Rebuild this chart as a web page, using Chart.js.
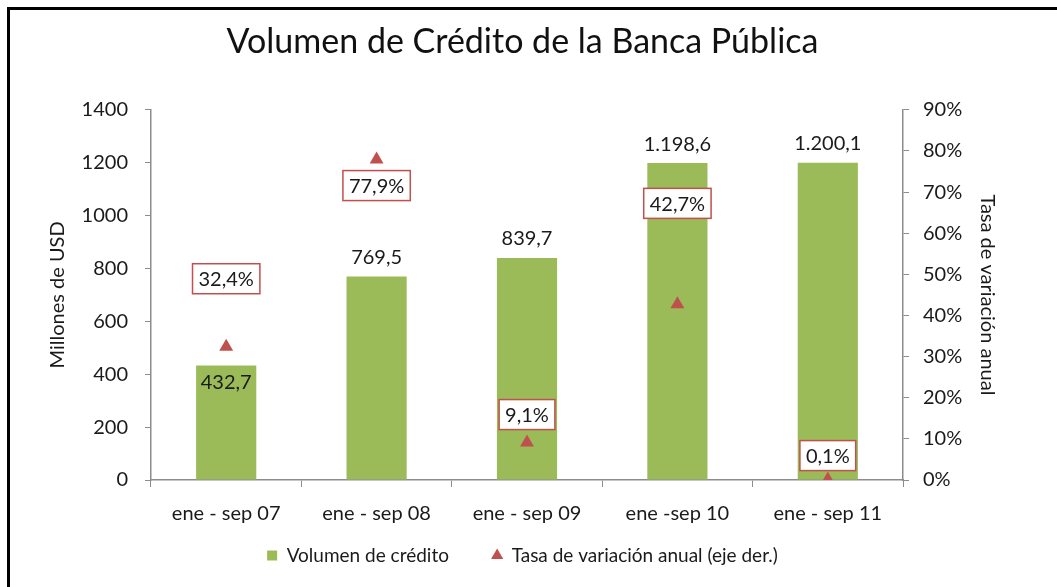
<!DOCTYPE html>
<html>
<head>
<meta charset="utf-8">
<script src="https://cdn.jsdelivr.net/npm/chart.js@4.4.1/dist/chart.umd.min.js"></script>
<style>
html, body { margin: 0; padding: 0; background: #fff; overflow: hidden; }
#frame { position: absolute; left: 7px; top: 7px; width: 1200px; height: 800px; border: 3px solid #000; }
#c { position: absolute; left: 0; top: 0; }
</style>
</head>
<body>
<div id="frame"></div>
<canvas id="c" width="1057" height="587"></canvas>
<script>
var categories = ["ene - sep 07", "ene - sep 08", "ene - sep 09", "ene -sep 10", "ene - sep 11"];
var volumen = [432.7, 769.5, 839.7, 1198.6, 1200.1];
var tasa = [32.4, 77.9, 9.1, 42.7, 0.1];
var leftTicks = [0, 200, 400, 600, 800, 1000, 1200, 1400];
var rightTicks = [0, 10, 20, 30, 40, 50, 60, 70, 80, 90];

var GREEN = "#9BBB59";
var RED = "#C0504D";
var AXIS = "#8c8c8c";
var TXT = "#1a1a1a";

// 1198.6 -> "1.198,6"
function fmt(v) {
  var p = v.toFixed(1).split(".");
  return p[0].replace(/\B(?=(\d{3})+(?!\d))/g, ".") + "," + p[1];
}

var valueLabels = {
  id: "valueLabels",
  afterDatasetsDraw: function (chart, args, opts) {
    var ctx = chart.ctx;
    ctx.save();
    ctx.font = "20px Lato";
    ctx.textAlign = "center";
    ctx.textBaseline = "middle";
    chart.getDatasetMeta(0).data.forEach(function (bar, i) {
      ctx.fillStyle = TXT;
      ctx.fillText(fmt(volumen[i]), bar.x, bar.y + opts.barOffsets[i]);
    });
    chart.getDatasetMeta(1).data.forEach(function (pt, i) {
      var txt = fmt(tasa[i]) + "%";
      var w = ctx.measureText(txt).width + 12, h = 30;
      var cy = pt.y + opts.pctOffsets[i];
      ctx.fillStyle = "#fff";
      ctx.fillRect(pt.x - w / 2, cy - h / 2, w, h);
      ctx.strokeStyle = RED;
      ctx.lineWidth = 1.5;
      ctx.strokeRect(pt.x - w / 2, cy - h / 2, w, h);
      ctx.fillStyle = TXT;
      ctx.fillText(txt, pt.x, cy + 1);
    });
    ctx.restore();
  }
};

new Chart(document.getElementById("c"), {
  type: "bar",
  data: {
    labels: categories,
    datasets: [
      {
        label: "Volumen de crédito",
        data: volumen,
        backgroundColor: GREEN,
        borderWidth: 0,
        pointStyle: "rect",
        barPercentage: 0.4,
        categoryPercentage: 1,
        yAxisID: "y",
        order: 1
      },
      {
        type: "line",
        label: "Tasa de variación anual (eje der.)",
        data: tasa,
        showLine: false,
        pointStyle: "triangle",
        pointRadius: 8,
        pointHoverRadius: 8,
        pointBackgroundColor: RED,
        pointBorderColor: RED,
        pointBorderWidth: 0,
        backgroundColor: RED,
        borderColor: RED,
        yAxisID: "y1",
        order: 0
      }
    ]
  },
  options: {
    responsive: false,
    animation: false,
    layout: { padding: { left: 46, right: 58, top: 22, bottom: 12 } },
    scales: {
      x: {
        afterFit: function (s) { s.height = 52; },
        grid: { drawOnChartArea: false, drawTicks: true, tickLength: 7, color: AXIS, offset: true },
        border: { color: AXIS, width: 1.5 },
        ticks: { color: TXT, font: { family: "Lato", size: 20 }, padding: 15, maxRotation: 0 }
      },
      y: {
        position: "left",
        min: 0,
        max: 1400,
        afterBuildTicks: function (s) { s.ticks = leftTicks.map(function (v) { return { value: v }; }); },
        afterFit: function (s) { s.width = 105; },
        grid: { drawOnChartArea: false, drawTicks: true, tickLength: 6, color: AXIS },
        border: { color: AXIS, width: 1.5 },
        ticks: { color: TXT, font: { family: "Lato", size: 20 }, padding: 17, callback: function (v) { return String(v); } },
        title: { display: true, text: "Millones de USD", color: TXT, font: { family: "Lato", size: 20 }, padding: 0 }
      },
      y1: {
        position: "right",
        min: 0,
        max: 90,
        afterBuildTicks: function (s) { s.ticks = rightTicks.map(function (v) { return { value: v }; }); },
        afterFit: function (s) { s.width = 96; },
        grid: { drawOnChartArea: false, drawTicks: true, tickLength: 6, color: AXIS },
        border: { color: AXIS, width: 1.5 },
        ticks: { color: TXT, font: { family: "Lato", size: 20 }, padding: 14, callback: function (v) { return v + "%"; } },
        title: { display: true, text: "Tasa de variación anual", color: TXT, font: { family: "Lato", size: 20 }, padding: 0 }
      }
    },
    plugins: {
      title: {
        display: true,
        text: "Volumen de Crédito de la Banca Pública",
        color: "#111",
        font: { family: "Lato", size: 34, weight: "normal" },
        padding: { top: 0, bottom: 47 }
      },
      legend: {
        position: "bottom",
        labels: {
          usePointStyle: true,
          boxWidth: 10,
          boxHeight: 10,
          padding: 14,
          color: TXT,
          font: { family: "Lato", size: 19 },
          sort: function (a, b) { return a.datasetIndex - b.datasetIndex; },
          generateLabels: function (chart) {
            var items = Chart.defaults.plugins.legend.labels.generateLabels(chart);
            items.forEach(function (it) {
              // extra gap after the first legend entry, as in the original
              if (it.datasetIndex === 0) it.text += "\u00a0\u00a0\u00a0\u00a0\u00a0\u00a0";
            });
            return items;
          }
        }
      },
      tooltip: { enabled: false },
      valueLabels: {
        barOffsets: [17, -19, -19, -19, -19],
        pctOffsets: [-68, 26, -28, -101, -24]
      }
    }
  },
  plugins: [valueLabels]
});
</script>
</body>
</html>
